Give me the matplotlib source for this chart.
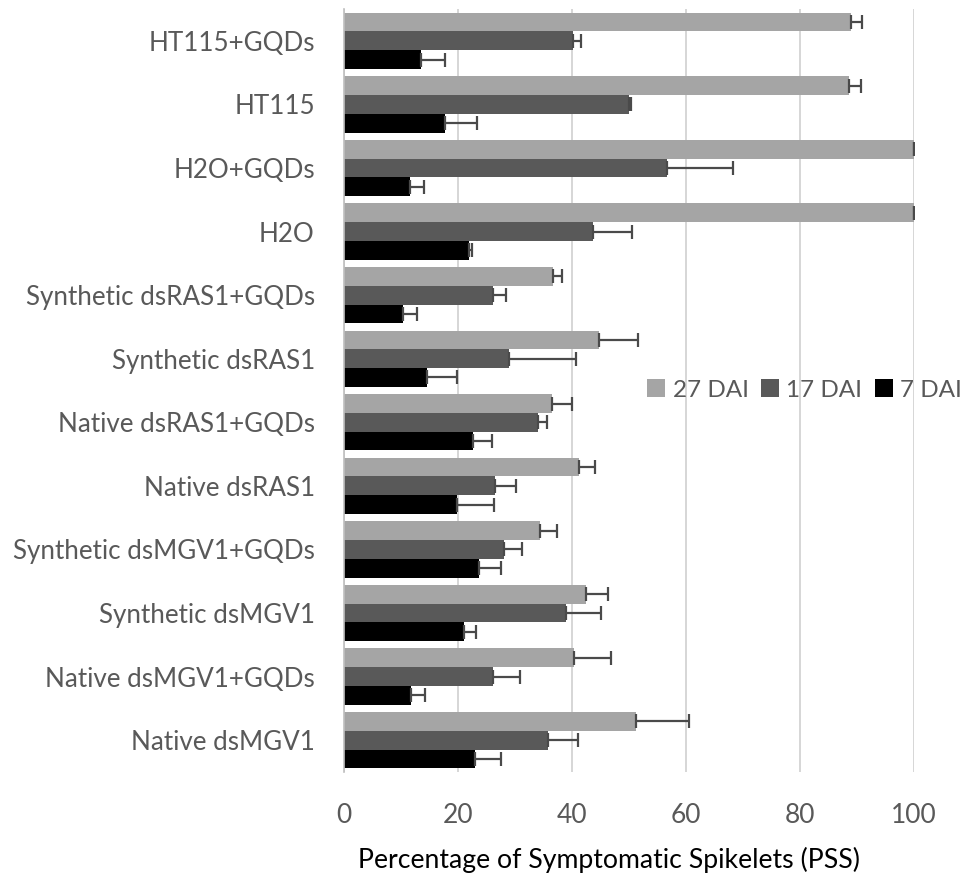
import matplotlib
matplotlib.use("Agg")
import matplotlib.pyplot as plt
import numpy as np

categories = ["HT115+GQDs", "HT115", "H2O+GQDs", "H2O", "Synthetic dsRAS1+GQDs",
              "Synthetic dsRAS1", "Native dsRAS1+GQDs", "Native dsRAS1",
              "Synthetic dsMGV1+GQDs", "Synthetic dsMGV1", "Native dsMGV1+GQDs", "Native dsMGV1"]
dai27 = [88.9, 88.6, 100.0, 100.0, 36.6, 44.7, 36.5, 41.2, 34.3, 42.4, 40.4, 51.2]
dai27_err = [2.0, 2.1, 0.0, 0.0, 1.7, 6.9, 3.5, 2.9, 3.1, 3.9, 6.4, 9.3]
dai17 = [40.1, 50.0, 56.6, 43.7, 26.1, 29.0, 34.1, 26.5, 28.0, 39.0, 26.2, 35.8]
dai17_err = [1.5, 0.3, 11.6, 6.9, 2.4, 11.7, 1.5, 3.6, 3.2, 6.0, 4.7, 5.3]
dai7 = [13.5, 17.7, 11.5, 21.9, 10.3, 14.6, 22.7, 19.9, 23.6, 21.1, 11.8, 22.9]
dai7_err = [4.3, 5.6, 2.5, 0.5, 2.5, 5.2, 3.2, 6.5, 4.0, 2.0, 2.4, 4.6]
series_labels = ["27 DAI", "17 DAI", "7 DAI"]
xticks = [0, 20, 40, 60, 80, 100]

plt.rcParams['font.family'] = ['Lato', 'DejaVu Sans']

W, H = 969, 873
fig = plt.figure(figsize=(W/100, H/100), dpi=100)
ax_left, ax_right, ax_top, ax_bottom = 344, 914, 9, 772
ax = fig.add_axes([ax_left/W, 1-ax_bottom/H, (ax_right-ax_left)/W, (ax_bottom-ax_top)/H])

y = np.arange(len(categories))
h = 0.295
colors = ["#A5A5A5", "#595959", "#000000"]
data = [(dai27, dai27_err), (dai17, dai17_err), (dai7, dai7_err)]
offsets = [-h, 0, h]
handles = []
for (vals, errs), off, c, lab in zip(data, offsets, colors, series_labels):
    b = ax.barh(y + off, vals, height=h, color=c, label=lab, zorder=2)
    handles.append(b)
    ax.errorbar(vals, y + off, xerr=[np.zeros(len(errs)), errs], fmt='none',
                ecolor="#4a4a4a", elinewidth=1.6, capsize=5, capthick=1.6, zorder=3)

ax.set_ylim(len(categories) - 0.5, -0.5)
ax.set_xlim(0, 100)
ax.set_xticks(xticks)
ax.set_xticklabels([str(t) for t in xticks])
ax.set_yticks(y)
ax.set_yticklabels(categories)
ax.grid(axis='x', color="#d0d0d0", linewidth=1.2, zorder=0)
for s in ["top", "right", "bottom"]:
    ax.spines[s].set_visible(False)
ax.spines["left"].set_color("#bfbfbf")
ax.spines["left"].set_linewidth(1.2)
ax.tick_params(axis='both', length=0, labelcolor="#595959")
ax.tick_params(axis='x', pad=22, labelsize=19)
ax.tick_params(axis='y', pad=21, labelsize=18.7)
lbl = ax.set_xlabel("Percentage of Symptomatic Spikelets (PSS)", fontsize=19.2, color="#000000")
lbl.set_va('center')
ax.xaxis.set_label_coords((609-ax_left)/(ax_right-ax_left), -(860-ax_bottom)/(ax_bottom-ax_top))

fig.legend(handles=handles, labels=series_labels, loc='center right', ncol=3,
           bbox_to_anchor=(962/W, 1-390/H), frameon=False, fontsize=17.5,
           handlelength=0.75, handleheight=0.75, handletextpad=0.3, columnspacing=0.5,
           borderpad=0.0, borderaxespad=0.0, labelcolor="#595959")

fig.savefig("out.png", dpi=100)
